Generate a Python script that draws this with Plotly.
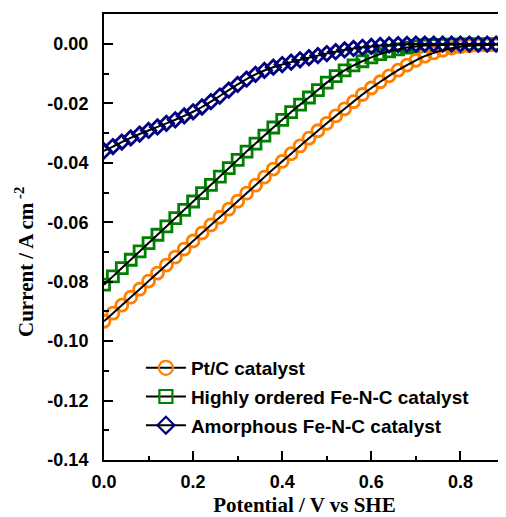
import plotly.graph_objects as go

potential = [0.00, 0.02, 0.04, 0.06, 0.08, 0.10, 0.12, 0.14, 0.16, 0.18,
             0.20, 0.22, 0.24, 0.26, 0.28, 0.30, 0.32, 0.34, 0.36, 0.38,
             0.40, 0.42, 0.44, 0.46, 0.48, 0.50, 0.52, 0.54, 0.56, 0.58,
             0.60, 0.62, 0.64, 0.66, 0.68, 0.70, 0.72, 0.74, 0.76, 0.78,
             0.80, 0.82, 0.84, 0.86, 0.88, 0.90]

pt_c = [-0.0933, -0.0906, -0.0879, -0.0852, -0.0825, -0.0798, -0.0771, -0.0744, -0.0717, -0.0690,
        -0.0663, -0.0636, -0.0609, -0.0583, -0.0556, -0.0529, -0.0502, -0.0475, -0.0448, -0.0421,
        -0.0395, -0.0369, -0.0343, -0.0317, -0.0292, -0.0267, -0.0242, -0.0218, -0.0194, -0.0170,
        -0.0148, -0.0127, -0.0107, -0.0088, -0.0071, -0.0055, -0.0041, -0.0030, -0.0021, -0.0014,
        -0.0009, -0.0006, -0.0004, -0.0003, -0.0002, -0.0002]

ordered_fenc = [-0.0810, -0.0782, -0.0754, -0.0726, -0.0698, -0.0670, -0.0642, -0.0614, -0.0586, -0.0558,
                -0.0530, -0.0502, -0.0474, -0.0446, -0.0418, -0.0390, -0.0362, -0.0335, -0.0308, -0.0281,
                -0.0255, -0.0229, -0.0204, -0.0180, -0.0155, -0.0130, -0.0108, -0.0089, -0.0072, -0.0058,
                -0.0045, -0.0034, -0.0025, -0.0018, -0.0012, -0.0008, -0.0005, -0.0004, -0.0003, -0.0002,
                -0.0002, -0.0001, -0.0001, -0.0001, -0.0001, -0.0001]

amorphous_fenc = [-0.0360, -0.0345, -0.0330, -0.0316, -0.0303, -0.0291, -0.0279, -0.0267, -0.0255, -0.0242,
                  -0.0228, -0.0212, -0.0194, -0.0175, -0.0155, -0.0136, -0.0118, -0.0102, -0.0089, -0.0078,
                  -0.0069, -0.0061, -0.0053, -0.0046, -0.0039, -0.0032, -0.0026, -0.0020, -0.0015, -0.0011,
                  -0.0008, -0.0005, -0.0003, -0.0002, -0.0001, 0.0000, 0.0000, 0.0000, 0.0000, 0.0000,
                  0.0000, 0.0000, 0.0000, 0.0000, 0.0000, 0.0000]

series_names = ["Pt/C catalyst", "Highly ordered Fe-N-C catalyst", "Amorphous Fe-N-C catalyst"]

x_tick_vals = [0.0, 0.2, 0.4, 0.6, 0.8]
x_tick_text = ["0.0", "0.2", "0.4", "0.6", "0.8"]
y_tick_vals = [0.00, -0.02, -0.04, -0.06, -0.08, -0.10, -0.12, -0.14]
y_tick_text = ["0.00", "-0.02", "-0.04", "-0.06", "-0.08", "-0.10", "-0.12", "-0.14"]

x_title = "Potential / V vs SHE"
y_title = "Current / A cm<sup> -2</sup>"

ORANGE = "#FF8000"
GREEN = "#008000"
NAVY = "#000080"

styles = {
    series_names[0]: dict(y=pt_c, color=ORANGE, symbol="circle-open", size=12),
    series_names[1]: dict(y=ordered_fenc, color=GREEN, symbol="square-open", size=11),
    series_names[2]: dict(y=amorphous_fenc, color=NAVY, symbol="diamond-open", size=11),
}

fig = go.Figure()

# marker layers (green under orange under navy)
for name in [series_names[1], series_names[0], series_names[2]]:
    s = styles[name]
    fig.add_trace(go.Scatter(
        x=potential, y=s["y"], mode="markers", showlegend=False,
        marker=dict(symbol=s["symbol"], size=s["size"], color=s["color"],
                    line=dict(color=s["color"], width=2.8)),
    ))

# black fit lines on top
for name in series_names:
    s = styles[name]
    fig.add_trace(go.Scatter(
        x=potential, y=s["y"], mode="lines", showlegend=False,
        line=dict(color="black", width=2, shape="spline", smoothing=0.6),
    ))

# legend entries
for i, name in enumerate(series_names):
    s = styles[name]
    fig.add_trace(go.Scatter(
        x=[None], y=[None], mode="lines+markers", name=name, legendgroup=f"g{i}",
        line=dict(color="black", width=2),
        marker=dict(symbol=s["symbol"], size=s["size"] + 2, color=s["color"],
                    line=dict(color=s["color"], width=2.2)),
    ))

tickfont = dict(family="Liberation Sans, Arial, sans-serif", size=18, color="black", weight="bold")
titlefont = dict(family="Liberation Serif, Times New Roman, serif", size=21, color="black", weight="bold")

# page body adds an 8px offset, so the figure is sized to the visible area
fig.update_layout(
    width=498, height=509,
    margin=dict(l=96, r=1, t=6, b=57, autoexpand=False),
    paper_bgcolor="white", plot_bgcolor="white",
    showlegend=True,
    legend=dict(x=0.092, y=0.249, xanchor="left", yanchor="top",
                bgcolor="rgba(0,0,0,0)", borderwidth=0, itemwidth=40,
                font=dict(family="Liberation Sans, Arial, sans-serif", size=19, color="black", weight="bold"),
                tracegroupgap=1),
    xaxis=dict(
        range=[0, 0.9], showgrid=False, zeroline=False, automargin=False,
        showline=True, linecolor="black", linewidth=2, mirror=True,
        tickmode="array", tickvals=x_tick_vals, ticktext=x_tick_text,
        ticks="inside", ticklen=9, tickwidth=2, tickcolor="black",
        minor=dict(tickmode="linear", tick0=0, dtick=0.1, ticks="inside", ticklen=4, tickwidth=2, tickcolor="black"),
        tickfont=tickfont, ticklabelstandoff=4,
        title=dict(text=x_title, font=titlefont, standoff=15),
    ),
    yaxis=dict(
        range=[-0.14, 0.0101], showgrid=False, zeroline=False, automargin=False,
        showline=True, linecolor="black", linewidth=2, mirror=True,
        tickmode="array", tickvals=y_tick_vals, ticktext=y_tick_text,
        ticks="inside", ticklen=9, tickwidth=2, tickcolor="black",
        minor=dict(tickmode="linear", tick0=0, dtick=0.01, ticks="inside", ticklen=5, tickwidth=2, tickcolor="black"),
        tickfont=tickfont, ticklabelstandoff=10,
    ),
    annotations=[dict(
        text=y_title, textangle=-90, xref="paper", yref="paper",
        x=-0.197, y=0.444, xanchor="center", yanchor="middle",
        showarrow=False, font=titlefont,
    )],
)

fig.write_html("out.html")
